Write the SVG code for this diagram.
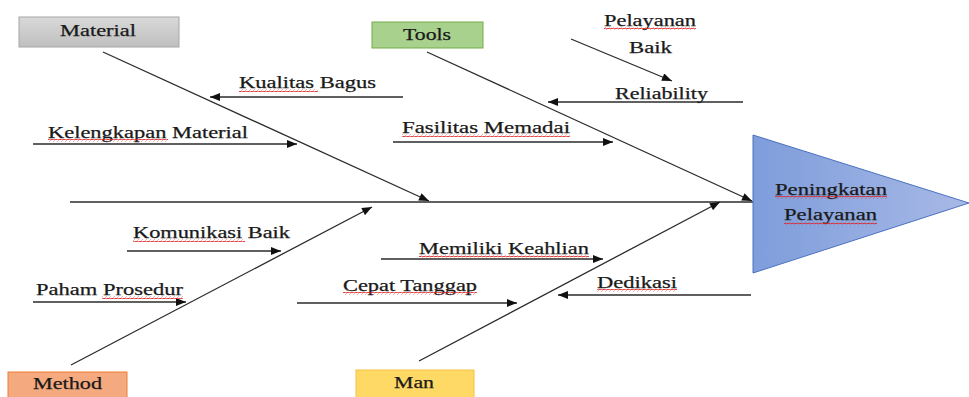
<svg xmlns="http://www.w3.org/2000/svg" width="969" height="397" viewBox="0 0 969 397">
<style>
.ln{stroke:#2b2b2b;stroke-width:1.3;fill:none}
.ar{marker-end:url(#ah)}
text{font-family:"Liberation Serif","Times New Roman",serif;font-size:16.5px;fill:#1a1a1a;stroke:#1a1a1a;stroke-width:0.25}
.wv{fill:url(#wave)}
</style>
<defs>
<marker id="ah" viewBox="0 0 10 8" refX="10" refY="4" markerWidth="11" markerHeight="8" markerUnits="userSpaceOnUse" orient="auto">
<path d="M0,0 L10,4 L0,8 z" fill="#111"/>
</marker>
<pattern id="wave" width="4" height="3" patternUnits="userSpaceOnUse">
<path d="M0,2 Q1,0 2,1.5 T4,1" stroke="#e02020" stroke-width="0.9" fill="none"/>
</pattern>
<linearGradient id="gray" x1="0" y1="0" x2="0" y2="1">
<stop offset="0" stop-color="#d9d9d9"/><stop offset="1" stop-color="#bfbfbf"/>
</linearGradient>
<linearGradient id="tri" x1="0" y1="0" x2="1" y2="0">
<stop offset="0" stop-color="#7e9ddb"/><stop offset="1" stop-color="#a8b9e6"/>
</linearGradient>
</defs>

<g id="connectors">
<line class="ln" x1="70" y1="202" x2="753" y2="202"/>
<line class="ln ar" x1="103" y1="52" x2="429" y2="201"/>
<line class="ln ar" x1="427" y1="52" x2="752" y2="201"/>
<line class="ln ar" x1="71" y1="365" x2="372" y2="207"/>
<line class="ln ar" x1="419" y1="361" x2="720" y2="202"/>
<line class="ln ar" x1="403" y1="97" x2="210" y2="97"/>
<line class="ln ar" x1="33" y1="144" x2="297" y2="144"/>
<line class="ln ar" x1="393" y1="142" x2="613" y2="142"/>
<line class="ln ar" x1="743" y1="102" x2="548" y2="102"/>
<line class="ln ar" x1="571" y1="39" x2="672" y2="81"/>
<line class="ln ar" x1="127" y1="251" x2="281" y2="251"/>
<line class="ln ar" x1="33" y1="302" x2="186" y2="302"/>
<line class="ln ar" x1="381" y1="259" x2="603" y2="259"/>
<line class="ln ar" x1="297" y1="303" x2="517" y2="303"/>
<line class="ln ar" x1="751" y1="295" x2="558" y2="295"/>
</g>

<g id="material">
<rect x="19" y="17" width="160" height="30" fill="url(#gray)" stroke="#a6a6a6" stroke-width="1"/>
<text x="60" y="36" textLength="76" lengthAdjust="spacingAndGlyphs">Material</text>
</g>
<g id="tools">
<rect x="372" y="22" width="111" height="26" fill="#a9d18e" stroke="#70ad47" stroke-width="1"/>
<text x="403" y="40" textLength="48" lengthAdjust="spacingAndGlyphs">Tools</text>
</g>
<g id="method">
<rect x="8" y="372" width="119" height="30" fill="#f4a97f" stroke="#ed7d31" stroke-width="1"/>
<text x="33" y="389" textLength="69" lengthAdjust="spacingAndGlyphs">Method</text>
</g>
<g id="man">
<rect x="356" y="370" width="118" height="30" fill="#ffd966" stroke="#f5c242" stroke-width="1"/>
<text x="394" y="388" textLength="40" lengthAdjust="spacingAndGlyphs">Man</text>
</g>
<g id="effect">
<polygon points="753,135 969,203 753,273" fill="url(#tri)" stroke="#4a72c0" stroke-width="1"/>
<text x="775" y="195" textLength="112" lengthAdjust="spacingAndGlyphs">Peningkatan</text>
<text x="784" y="220" textLength="93" lengthAdjust="spacingAndGlyphs">Pelayanan</text>
<rect class="wv" x="775" y="196" width="112" height="3"/>
<rect class="wv" x="784" y="222" width="93" height="3"/>
</g>

<g id="labels">
<text x="239" y="88" textLength="137" lengthAdjust="spacingAndGlyphs">Kualitas Bagus</text>
<text x="48" y="138" textLength="200" lengthAdjust="spacingAndGlyphs">Kelengkapan Material</text>
<text x="402" y="133" textLength="168" lengthAdjust="spacingAndGlyphs">Fasilitas Memadai</text>
<text x="615" y="99" textLength="93" lengthAdjust="spacingAndGlyphs">Reliability</text>
<text x="604" y="26" textLength="92" lengthAdjust="spacingAndGlyphs">Pelayanan</text>
<text x="629" y="53" textLength="43" lengthAdjust="spacingAndGlyphs">Baik</text>
<text x="133" y="238" textLength="157" lengthAdjust="spacingAndGlyphs">Komunikasi Baik</text>
<text x="36" y="295" textLength="147" lengthAdjust="spacingAndGlyphs">Paham Prosedur</text>
<text x="419" y="254" textLength="170" lengthAdjust="spacingAndGlyphs">Memiliki Keahlian</text>
<text x="343" y="291" textLength="134" lengthAdjust="spacingAndGlyphs">Cepat Tanggap</text>
<text x="597" y="288" textLength="80" lengthAdjust="spacingAndGlyphs">Dedikasi</text>
<rect class="wv" x="239" y="89" width="79" height="3"/>
<rect class="wv" x="48" y="139" width="120" height="3"/>
<rect class="wv" x="402" y="134" width="168" height="3"/>
<rect class="wv" x="604" y="27" width="92" height="3"/>
<rect class="wv" x="133" y="239" width="112" height="3"/>
<rect class="wv" x="102" y="296" width="81" height="3"/>
<rect class="wv" x="419" y="255" width="170" height="3"/>
<rect class="wv" x="343" y="292" width="134" height="3"/>
<rect class="wv" x="597" y="289" width="80" height="3"/>
</g>
</svg>
